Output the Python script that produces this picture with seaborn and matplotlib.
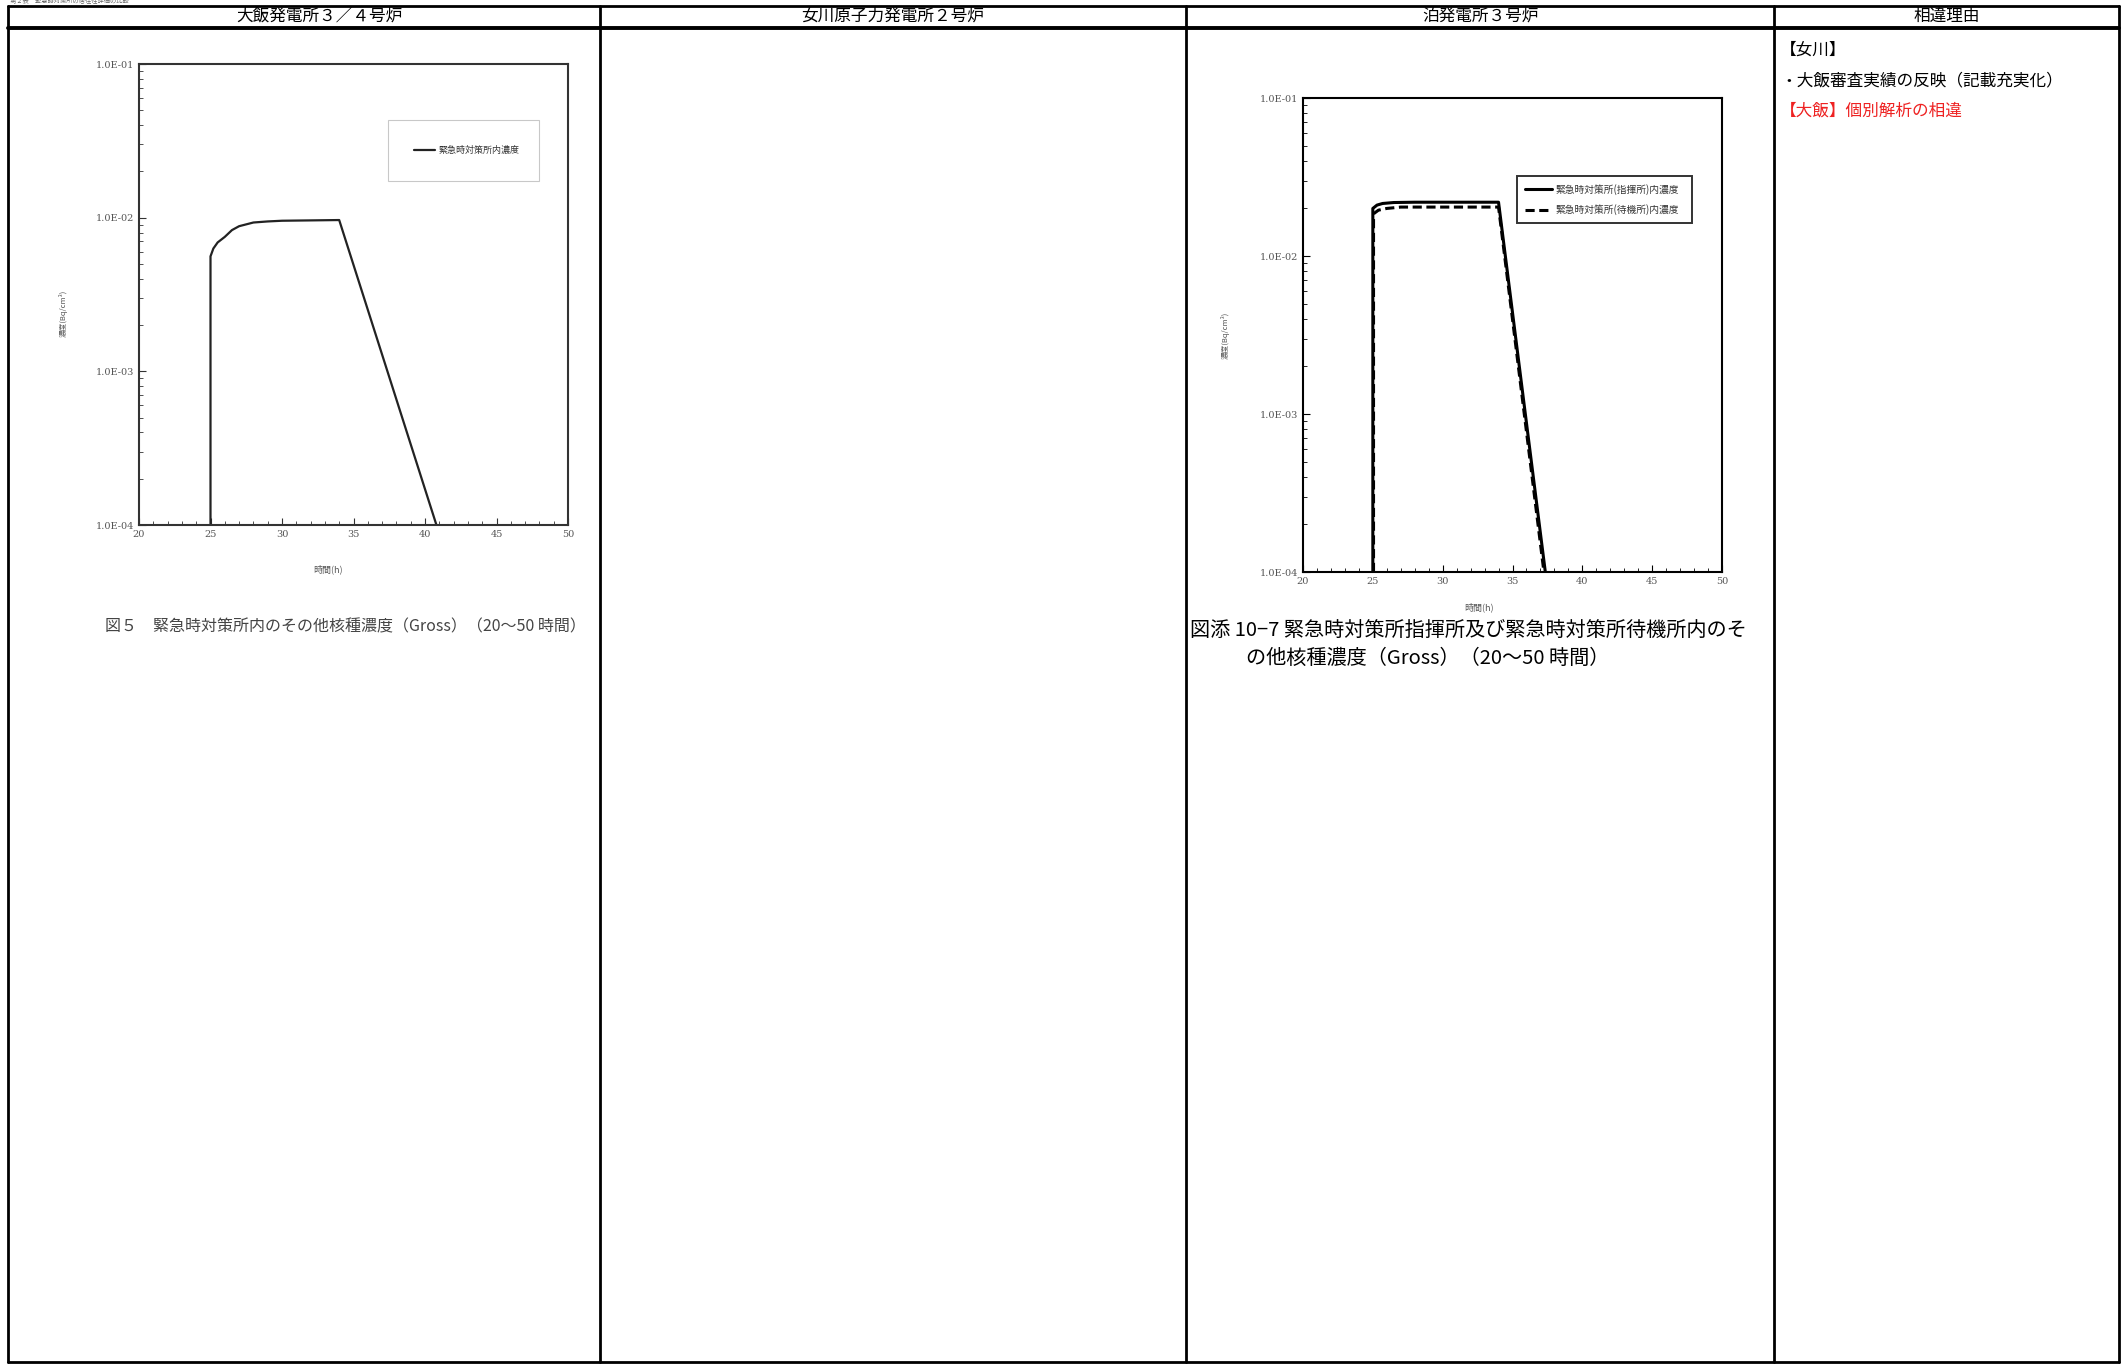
# -*- coding: utf-8 -*-
"""
緊急時対策所内のその他核種濃度 比較表（大飯 / 女川 / 泊）を再現する
"""

import numpy as np
import pandas as pd
import seaborn as sns
import matplotlib.pyplot as plt
from matplotlib.lines import Line2D
from matplotlib.ticker import FuncFormatter, MultipleLocator, LogLocator, NullFormatter

# ---- データ ----
headers = ['大飯発電所３／４号炉', '女川原子力発電所２号炉', '泊発電所３号炉', '相違理由']

# 大飯：緊急時対策所内濃度
ohi_t = [25, 25, 25.2, 25.5, 26, 26.5, 27, 28, 29, 30, 32, 34, 40.8]
ohi_c = [1e-4, 5.6e-3, 6.3e-3, 6.9e-3, 7.5e-3, 8.3e-3, 8.8e-3, 9.3e-3, 9.45e-3,
         9.55e-3, 9.6e-3, 9.65e-3, 1e-4]
ohi_label = '緊急時対策所内濃度'

# 泊：指揮所 / 待機所
tomari_t1 = [25, 25, 25.3, 25.7, 26.5, 28, 34, 37.35]
tomari_c1 = [1e-4, 2.0e-2, 2.1e-2, 2.15e-2, 2.18e-2, 2.19e-2, 2.19e-2, 1e-4]
tomari_t2 = [25.05, 25.05, 25.4, 26, 27, 34, 37.25]
tomari_c2 = [1e-4, 1.85e-2, 1.95e-2, 2.0e-2, 2.04e-2, 2.04e-2, 1e-4]
tomari_labels = ['緊急時対策所(指揮所)内濃度', '緊急時対策所(待機所)内濃度']

cap_ohi = '図５　緊急時対策所内のその他核種濃度（Gross）（20〜50 時間）'
cap_tomari = ['図添 10−7 緊急時対策所指揮所及び緊急時対策所待機所内のそ',
              'の他核種濃度（Gross）（20〜50 時間）']
reason = ['【女川】', '・大飯審査実績の反映（記載充実化）', '【大飯】個別解析の相違']

sns.set_theme(style='white')
plt.rcParams['font.family'] = ['Noto Sans CJK JP', 'DejaVu Sans']

W, H = 2123, 1364
def fx(x):
    return x / W
def fy(y):
    return 1 - y / H

fig = plt.figure(figsize=(W / 100, H / 100), dpi=100)
fig.patch.set_facecolor('white')

# ---- 表の枠線 ----
def hline(y, x0, x1, lw=2.0):
    fig.add_artist(Line2D([fx(x0), fx(x1)], [fy(y), fy(y)], color='black', lw=lw,
                          transform=fig.transFigure))
def vline(x, y0, y1, lw=2.0):
    fig.add_artist(Line2D([fx(x), fx(x)], [fy(y0), fy(y1)], color='black', lw=lw,
                          transform=fig.transFigure))

col_x = [8, 600, 1186, 1774, 2119]
hline(6, 8, 2119, lw=2.0)
hline(28, 8, 2119, lw=2.8)
hline(1362, 8, 2119, lw=2.0)
for x in col_x:
    vline(x, 6, 1362, lw=2.0)

header_x = [319, 893, 1480, 1947]
for hx, h in zip(header_x, headers):
    fig.text(fx(hx), fy(16), h, ha='center', va='center', fontsize=12, color='black')

# 上端の小さな表題
fig.text(fx(10), fy(5), '第２表　緊急時対策所の居住性評価の比較', ha='left', va='bottom',
         fontsize=4.5, color='#666')

# ---- 共通の軸設定 ----
def style_axis(ax, col):
    ax.set_yscale('log')
    ax.set_xlim(20, 50)
    ax.set_ylim(1e-4, 1e-1)
    ax.xaxis.set_major_locator(MultipleLocator(5))
    ax.xaxis.set_minor_locator(MultipleLocator(1))
    ax.yaxis.set_major_locator(LogLocator(base=10, numticks=10))
    ax.yaxis.set_minor_locator(LogLocator(base=10, subs=np.arange(2, 10), numticks=10))
    ax.yaxis.set_minor_formatter(NullFormatter())
    ax.yaxis.set_major_formatter(FuncFormatter(lambda v, p: f'{v:.1E}'))
    ax.tick_params(which='both', direction='in', bottom=True, left=True, top=False,
                   right=False, colors=col, labelcolor='#555', labelsize=7)
    ax.tick_params(which='major', length=5, width=0.8)
    ax.tick_params(which='minor', length=3, width=0.6)
    for lab in ax.get_xticklabels() + ax.get_yticklabels():
        lab.set_family('DejaVu Serif')
    for s in ax.spines.values():
        s.set_color(col)
        s.set_linewidth(1.5)

# ---- 大飯 ----
ax1 = fig.add_axes([fx(139), fy(525), (568 - 139) / W, (525 - 64) / H])
df_ohi = pd.DataFrame({'時間': ohi_t, '濃度': ohi_c})
sns.lineplot(data=df_ohi, x='時間', y='濃度', ax=ax1, estimator=None, sort=False,
             color='#222', lw=1.6, label=ohi_label)
style_axis(ax1, '#333')
ax1.set_xlabel('時間(h)', fontsize=6.5, color='#555')
ax1.xaxis.set_label_coords(0.44, -0.085)
ax1.set_ylabel('濃度(Bq/cm³)', fontsize=5.5, color='#555')
ax1.yaxis.set_label_coords(-0.165, 0.46)
leg1 = ax1.legend(loc='upper left', bbox_to_anchor=(0.569, 0.889, 0.375, 0.0), mode='expand',
                  fancybox=False, edgecolor='#bbb', fontsize=6.5, handlelength=2.4,
                  borderpad=2.9, handletextpad=0.4)
leg1.get_frame().set_linewidth(0.8)
for t in leg1.get_texts():
    t.set_color('#333')

fig.text(fx(105), fy(627), cap_ohi, ha='left', va='center', fontsize=11.5, color='#444')

# ---- 泊 ----
ax2 = fig.add_axes([fx(1303), fy(572), (1722 - 1303) / W, (572 - 98) / H])
df_tomari = pd.concat([
    pd.DataFrame({'時間': tomari_t1, '濃度': tomari_c1, '系列': tomari_labels[0]}),
    pd.DataFrame({'時間': tomari_t2, '濃度': tomari_c2, '系列': tomari_labels[1]}),
])
sns.lineplot(data=df_tomari, x='時間', y='濃度', style='系列', ax=ax2, estimator=None,
             sort=False, color='black', lw=2.2,
             dashes={tomari_labels[0]: '', tomari_labels[1]: (3, 1.5)})
style_axis(ax2, 'black')
ax2.set_xlabel('時間(h)', fontsize=6.5, color='#555')
ax2.xaxis.set_label_coords(0.42, -0.065)
ax2.set_ylabel('濃度(Bq/cm³)', fontsize=5.5, color='#555')
ax2.yaxis.set_label_coords(-0.175, 0.5)
handles, labels = ax2.get_legend_handles_labels()
leg2 = ax2.legend(handles, labels, loc='upper left', bbox_to_anchor=(0.499, 0.846, 0.441, 0.0),
                  mode='expand', fancybox=False, edgecolor='black', fontsize=7,
                  handlelength=2.8, borderpad=0.8, labelspacing=1.0, handletextpad=0.4)
leg2.get_frame().set_linewidth(1.4)
for t in leg2.get_texts():
    t.set_color('#333')

fig.text(fx(1190), fy(630), cap_tomari[0], ha='left', va='center', fontsize=14.5, color='black')
fig.text(fx(1246), fy(658), cap_tomari[1], ha='left', va='center', fontsize=14.5, color='black')

# ---- 相違理由 ----
fig.text(fx(1780), fy(50), reason[0], ha='left', va='center', fontsize=12, color='black')
fig.text(fx(1780), fy(81), reason[1], ha='left', va='center', fontsize=12, color='black')
fig.text(fx(1780), fy(111), reason[2], ha='left', va='center', fontsize=12, color='#ee2222')

plt.savefig('out.png', dpi=100)
